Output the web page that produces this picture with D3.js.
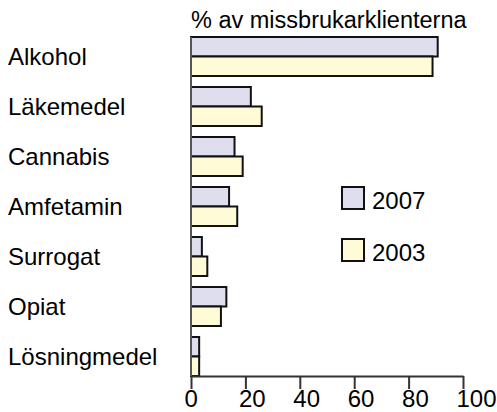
<!DOCTYPE html>
<html>
<head>
<meta charset="utf-8">
<script src="https://cdn.jsdelivr.net/npm/d3@7"></script>
<style>
  body { margin: 0; background: #fff; }
  text { font-family: "Liberation Sans", Arial, sans-serif; fill: #000; }
</style>
</head>
<body>
<script>
// DATA
var categories = ["Alkohol", "Läkemedel", "Cannabis", "Amfetamin", "Surrogat", "Opiat", "Lösningmedel"];
var years = ["2007", "2003"];
var values2007 = [90.7, 22, 16, 14, 4, 13, 3];
var values2003 = [88.8, 26, 19, 17, 6, 11, 3];
var xTicks = [0, 20, 40, 60, 80, 100];
var title = "% av missbrukarklienterna";

var colors = {"2007": "#dfdeef", "2003": "#fffbd6"};

var w = 497;
var h = 412;

var svg = d3.select("body")
  .append("svg")
  .attr("width", w)
  .attr("height", h);

// scales
var x = d3.scaleLinear()
  .domain([0, 100])
  .range([191, 463]);

var y = d3.scaleBand()
  .domain(categories)
  .range([37, 376])
  .paddingInner(0.22)
  .paddingOuter(0);

var yInner = d3.scaleBand()
  .domain(years)
  .range([0, y.bandwidth()]);

var rows = categories.map(function(c, i) {
  return {cat: c, "2007": values2007[i], "2003": values2003[i]};
});

// title
svg.append("text")
  .attr("x", x(0))
  .attr("y", 28)
  .attr("font-size", "23.5px")
  .text(title);

// category labels
svg.selectAll("text.cat")
  .data(categories)
  .enter()
  .append("text")
  .attr("class", "cat")
  .attr("x", 8)
  .attr("y", function(d) { return y(d) + y.bandwidth() / 2 + 8; })
  .attr("font-size", "24px")
  .text(function(d) { return d; });

// bars
var groups = svg.selectAll("g.row")
  .data(rows)
  .enter()
  .append("g")
  .attr("class", "row")
  .attr("transform", function(d) { return "translate(0," + y(d.cat) + ")"; });

groups.selectAll("rect")
  .data(function(d) {
    return years.map(function(k) { return {year: k, v: d[k]}; });
  })
  .enter()
  .append("rect")
  .attr("x", x(0))
  .attr("y", function(d) { return yInner(d.year); })
  .attr("width", function(d) { return x(d.v) - x(0); })
  .attr("height", yInner.bandwidth())
  .attr("fill", function(d) { return colors[d.year]; })
  .attr("stroke", "#111")
  .attr("stroke-width", 2);

// x axis
var xAxis = d3.axisBottom(x)
  .tickValues(xTicks)
  .tickSize(13)
  .tickSizeOuter(0);

var gx = svg.append("g")
  .attr("transform", "translate(0,376)")
  .call(xAxis);

gx.select(".domain").attr("stroke", "#333").attr("stroke-width", 2);
gx.selectAll(".tick line").attr("stroke", "#333").attr("stroke-width", 2);
// labels start a bit left of each tick, like the original
gx.selectAll(".tick text")
  .attr("font-size", "24px")
  .attr("font-family", "Liberation Sans, Arial, sans-serif")
  .attr("fill", "#000")
  .attr("text-anchor", "start")
  .attr("x", -7)
  .attr("y", 31)
  .attr("dy", null);

// y axis line
svg.append("line")
  .attr("x1", x(0))
  .attr("x2", x(0))
  .attr("y1", y.range()[0])
  .attr("y2", 376)
  .attr("stroke", "#555")
  .attr("stroke-width", 2);

// legend
var legend = svg.selectAll("g.legend")
  .data(years)
  .enter()
  .append("g")
  .attr("class", "legend")
  .attr("transform", function(d, i) { return "translate(342," + (187 + i * 52) + ")"; });

legend.append("rect")
  .attr("width", 22)
  .attr("height", 22)
  .attr("fill", function(d) { return colors[d]; })
  .attr("stroke", "#111")
  .attr("stroke-width", 2);

legend.append("text")
  .attr("x", 30)
  .attr("y", 22)
  .attr("font-size", "24px")
  .text(function(d) { return d; });
</script>
</body>
</html>
